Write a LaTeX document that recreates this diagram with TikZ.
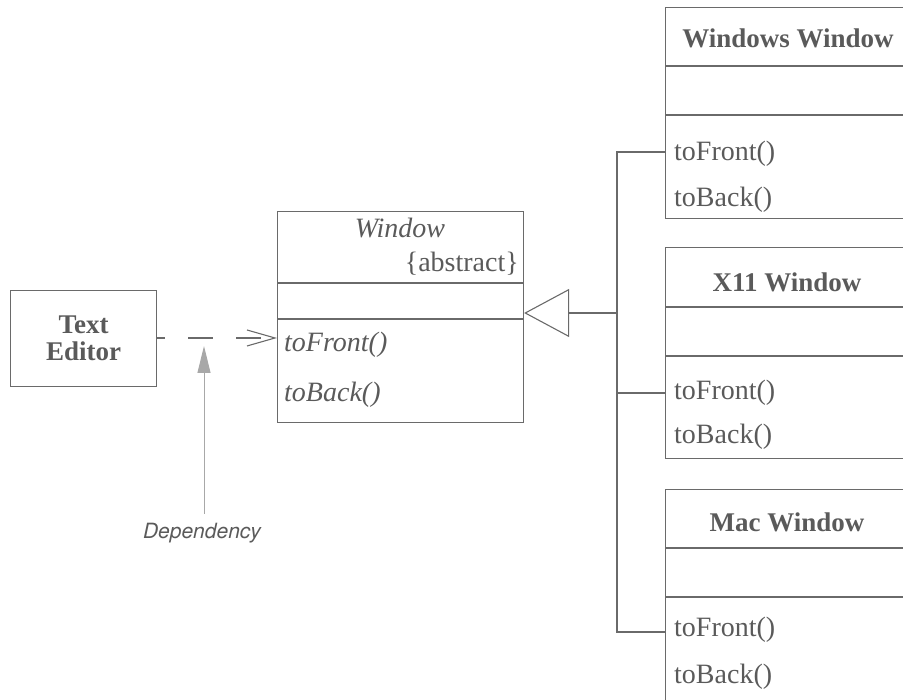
\documentclass[tikz,border=0pt]{standalone}
\usepackage{fontspec}
\setmainfont{Liberation Serif}
\newfontfamily\depfont{TeX Gyre Heros}
\usetikzlibrary{arrows.meta}
\definecolor{ink}{HTML}{5A5A5A}
\definecolor{lin}{HTML}{6A6A6A}
\definecolor{depc}{HTML}{A8A8A8}
\tikzset{
  umlbox/.style={draw=lin, line width=1.1pt, inner sep=0pt, anchor=north west},
  cline/.style={draw=lin, line width=1.1pt},
  opname/.style={text=ink, anchor=west, inner sep=0pt, font=\fontsize{28}{31}\selectfont},
  aopname/.style={text=ink, anchor=west, inner sep=0pt, font=\fontsize{28}{31}\selectfont\itshape},
  title/.style={text=ink, inner sep=0pt, font=\fontsize{27}{30}\selectfont\bfseries},
}
\begin{document}
\begin{tikzpicture}[x=1pt,y=-1pt]
\useasboundingbox (0,0) rectangle (903,700);
\clip (0,0) rectangle (903,700);
% Text Editor
\node[umlbox, minimum width=146pt, minimum height=96pt] (te) at (10,290) {};
\node[text=ink, align=center, inner sep=0pt, font=\fontsize{27}{27}\selectfont\bfseries] (tet) at (te.center) {Text\\Editor};
% Window (abstract)
\node[umlbox, minimum width=246pt, minimum height=211pt] (win) at (277,211) {};
\draw[cline] (277,283) -- (523,283);
\draw[cline] (277,319) -- (523,319);
\node[text=ink, inner sep=0pt, font=\fontsize{28}{31}\selectfont\itshape] (wint) at (400,228) {Window};
\node[text=ink, anchor=east, inner sep=0pt, font=\fontsize{28}{31}\selectfont] (wabs) at (519,264) {\{abstract\}};
\node[aopname] (wf) at (284,345) {toFront()};
\node[aopname] (wb) at (284,395) {toBack()};
% Windows Window
\node[umlbox, minimum width=245pt, minimum height=211pt] (ww) at (665,7) {};
\draw[cline] (665,66) -- (910,66);
\draw[cline] (665,115) -- (910,115);
\node[title] (wwt) at (788,38) {Windows Window};
\node[opname] (wwf) at (674,154) {toFront()};
\node[opname] (wwb) at (674,200) {toBack()};
% X11 Window
\node[umlbox, minimum width=245pt, minimum height=211pt] (xw) at (665,247) {};
\draw[cline] (665,307) -- (910,307);
\draw[cline] (665,356) -- (910,356);
\node[title] (xwt) at (787,282) {X11 Window};
\node[opname] (xwf) at (674,393) {toFront()};
\node[opname] (xwb) at (674,437) {toBack()};
% Mac Window
\node[umlbox, minimum width=245pt, minimum height=211pt] (mw) at (665,489) {};
\draw[cline] (665,548) -- (910,548);
\draw[cline] (665,597) -- (910,597);
\node[title] (mwt) at (787,522) {Mac Window};
\node[opname] (mwf) at (674,630) {toFront()};
\node[opname] (mwb) at (674,677) {toBack()};
% generalization
\coordinate (hub) at (617,313);
\coordinate (b1) at (617,152);
\coordinate (b2) at (617,393);
\coordinate (b3) at (617,632);
\draw[cline] (ww.west |- b1) -- (b1) -- (b3) -- (mw.west |- b3);
\draw[cline] (xw.west |- b2) -- (b2);
\draw[cline, -{Triangle[open, length=45pt, width=48pt, line width=1.1pt]}] (hub) -- (win.east |- hub);
% dependency
\draw[cline, dash pattern=on 25pt off 23pt, dash phase=17pt, -{Straight Barb[length=28pt, width=16pt, line width=1.1pt]}] (te.east |- 0,338) -- (win.west |- 0,338);
% note
\node[text=ink, inner sep=0pt, font=\depfont\fontsize{21}{24}\selectfont\itshape] (dep) at (202,533) {Dependency};
\coordinate (deptip) at (204,346);
\draw[depc, line width=1pt, -{Triangle[length=27pt, width=13pt]}] (204,514) -- (deptip);
\end{tikzpicture}
\end{document}
